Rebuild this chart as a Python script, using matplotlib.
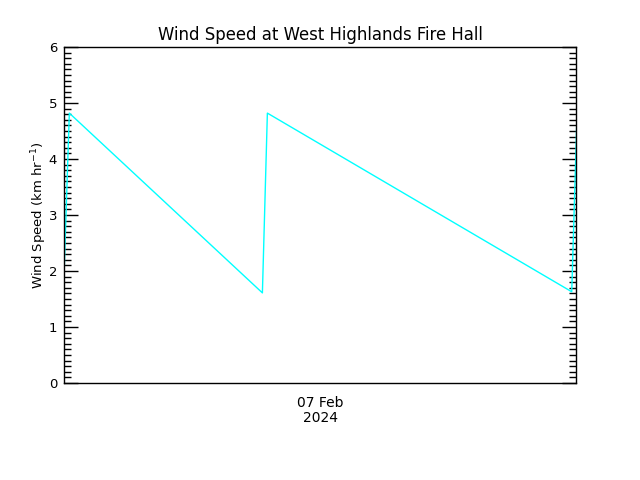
import matplotlib
matplotlib.use("Agg")
import matplotlib.pyplot as plt
from matplotlib.ticker import MultipleLocator
import pandas as pd

# wind speed readings (km/hr)
times = pd.to_datetime([
    "2024-02-06 12:00", "2024-02-06 12:15",
    "2024-02-06 21:18", "2024-02-06 21:32",
    "2024-02-07 11:48", "2024-02-07 12:03",
])
speed = [1.90, 4.82, 1.61, 4.82, 1.63, 4.82]

x_start = pd.Timestamp("2024-02-06 12:00")
x_end = pd.Timestamp("2024-02-07 12:00")
date_ticks = [pd.Timestamp("2024-02-07 00:00")]
date_labels = ["07 Feb\n2024"]

fig = plt.figure(figsize=(6.4, 4.8), dpi=100)
ax = fig.add_axes([0.1, 0.202, 0.8, 0.7])

ax.plot(times, speed, color="#00ffff", lw=1)

ax.set_xlim(x_start, x_end)
ax.set_ylim(0, 6)
ax.set_xticks(date_ticks)
ax.set_xticklabels(date_labels, fontsize=10, linespacing=1.1)
ax.tick_params(axis="x", length=0, pad=9)

ax.yaxis.set_major_locator(MultipleLocator(1))
ax.yaxis.set_minor_locator(MultipleLocator(0.1))
ax.tick_params(axis="y", which="both", direction="in", left=True, right=True,
               labelsize=9.5, pad=5)
ax.tick_params(axis="y", which="major", length=10, width=1)
ax.tick_params(axis="y", which="minor", length=5, width=1)

for s in ax.spines.values():
    s.set_linewidth(1)

ax.set_ylabel("Wind Speed (km hr$^{-1}$)", fontsize=9.5, labelpad=0)
ax.set_title("Wind Speed at West Highlands Fire Hall", fontsize=11.9, pad=5)

fig.savefig("out.png", dpi=100)
